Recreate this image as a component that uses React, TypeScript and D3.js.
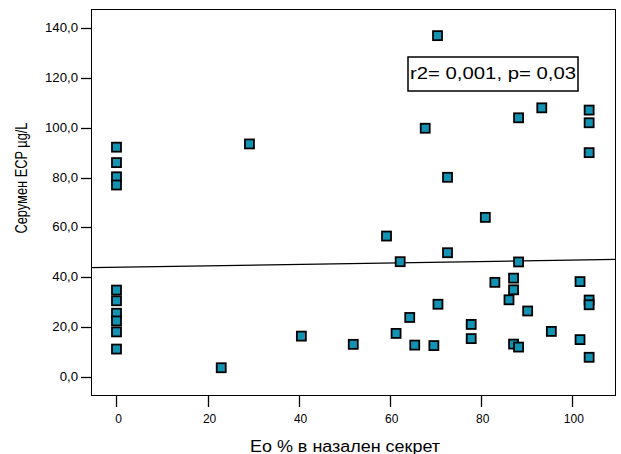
import React from "react";
import * as d3 from "d3";

const xTicks = [0, 20, 40, 60, 80, 100];
const yTicks = [0, 20, 40, 60, 80, 100, 120, 140];

const eoPercent = [
  0, 0, 0, 0, 0, 0, 0, 0, 0, 0,
  23, 29.2, 40.6, 52, 59.3, 62.3, 61.4, 64.4, 65.5, 67.8,
  69.7, 70.5, 70.6, 72.7, 72.7, 77.9, 77.9, 81.0, 83.1, 86.2,
  87.2, 87.2, 87.2, 88.3, 88.3, 88.3, 90.3, 93.4, 95.5, 101.8,
  101.8, 103.8, 103.8, 103.8, 103.8, 103.8, 103.8,
];
const serumEcp = [
  92.2, 86, 80.3, 77, 34.8, 30.5, 25.5, 22.4, 18, 11.1,
  3.6, 93.5, 16.3, 13, 56.5, 46.2, 17.4, 23.8, 12.7, 99.8,
  12.5, 137, 29.1, 80.1, 49.8, 21.0, 15.3, 64.0, 37.9, 30.9,
  39.6, 34.9, 13.1, 46.1, 11.9, 104, 26.4, 108, 18.2, 38.2,
  14.9, 107.1, 102, 90, 30.8, 28.9, 7.8,
];

const fitIntercept = 43.96;
const fitSlope = 0.0286;
const statText = "r2= 0,001, p= 0,03";
const xTitle = "Ео % в назален секрет";
const yTitle = "Серумен ECP µg/L";

const W = 621;
const H = 454;
const left = 91;
const right = 616;
const top = 9;
const bottom = 396;

const font = "'Liberation Sans', Arial, sans-serif";

export default function App() {
  const x = d3.scaleLinear().domain([-5.6, 109.7]).range([left, right]);
  const y = d3.scaleLinear().domain([-7.75, 147.7]).range([bottom, top]);
  const fmtY = (v: number) => v.toFixed(1).replace(".", ",");
  const [d0, d1] = x.domain();
  const line = d3.line<number>().x((d) => x(d)).y((d) => y(fitIntercept + fitSlope * d));

  return (
    <svg
      width={W}
      height={H}
      style={{ position: "absolute", left: 0, top: 0, background: "#fff" }}
      fontFamily={font}
    >
      <rect x={0} y={0} width={W} height={H} fill="#fff" />
      <path d={line([d0, d1]) || ""} stroke="#000" strokeWidth={1.3} fill="none" />
      {eoPercent.map((ev, i) => (
        <rect
          key={i}
          x={x(ev) - 4.5}
          y={y(serumEcp[i]) - 4.5}
          width={9}
          height={9}
          fill="#1393b4"
          stroke="#000"
          strokeWidth={1.8}
        />
      ))}
      <rect
        x={left + 0.5}
        y={top + 0.5}
        width={right - left - 1}
        height={bottom - top - 1}
        fill="none"
        stroke="#000"
        strokeWidth={1}
      />
      {yTicks.map((t) => (
        <g key={t}>
          <line x1={81} x2={left} y1={Math.round(y(t)) + 0.5} y2={Math.round(y(t)) + 0.5} stroke="#000" strokeWidth={1.3} />
          <text
            transform={`translate(78,${y(t) + 4}) scale(1.1,1)`}
            textAnchor="end"
            fontSize={12}
            fill="#000"
          >
            {fmtY(t)}
          </text>
        </g>
      ))}
      {xTicks.map((t) => (
        <g key={t}>
          <line x1={Math.round(x(t)) + 0.5} x2={Math.round(x(t)) + 0.5} y1={bottom} y2={407} stroke="#000" strokeWidth={1.3} />
          <text x={x(t) + 2} y={423} textAnchor="middle" fontSize={12} fill="#000">
            {t}
          </text>
        </g>
      ))}
      <rect x={408} y={57} width={170} height={34} fill="#fff" stroke="#000" strokeWidth={1.5} />
      <text x={410} y={79} fontSize={17} textLength={166} lengthAdjust="spacingAndGlyphs" fill="#000">
        {statText}
      </text>
      <text x={345} y={452} textAnchor="middle" fontSize={16} textLength={190} lengthAdjust="spacingAndGlyphs" fill="#000">
        {xTitle}
      </text>
      <text
        transform={`translate(27,178) rotate(-90) scale(1,1.2)`}
        textAnchor="middle"
        fontSize={13}
        textLength={111}
        lengthAdjust="spacingAndGlyphs"
        fill="#000"
      >
        {yTitle}
      </text>
    </svg>
  );
}
